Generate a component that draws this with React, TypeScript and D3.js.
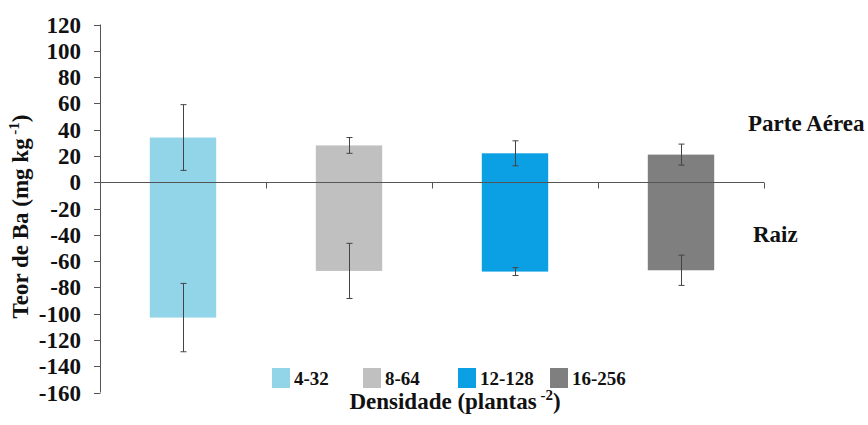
import React from "react";
import * as d3 from "d3";

// Barium content by planting density: shoot (positive) and root (negative)
const categories = ["4-32", "8-64", "12-128", "16-256"];
const shootValues = [34, 28, 22, 21];
const shootErrors = [25, 6, 9.5, 8];
const rootValues = [-103, -67.5, -68, -67];
const rootErrors = [26, 21, 3, 11.5];
const yTicks = [120, 100, 80, 60, 40, 20, 0, -20, -40, -60, -80, -100, -120, -140, -160];
const colors = ["#93D5E8", "#C0C0C0", "#0AA0E3", "#7F7F7F"];

const W = 868;
const H = 425;
const AXIS = "#555555";
const serif = { fontFamily: "Liberation Serif" };

export default function App() {
  const y = d3.scaleLinear().domain([-160, 120]).range([392.5, 24.5]);
  const x = d3.scaleBand<string>().domain(categories).range([100, 764]).padding(0);
  const barW = x.bandwidth() * 0.4;
  const y0 = Math.round(y(0)) + 0.5;

  // legend layout: square left edges
  const legendX = [272, 363, 458, 550];

  const errorBar = (cx: number, v: number, e: number, key: string) => {
    const top = y(v + e);
    const bot = y(v - e);
    return (
      <g key={key} stroke="#444" strokeWidth={1}>
        <line x1={cx} x2={cx} y1={top} y2={bot} />
        <line x1={cx - 3} x2={cx + 3} y1={top} y2={top} />
        <line x1={cx - 3} x2={cx + 3} y1={bot} y2={bot} />
      </g>
    );
  };

  return (
    <svg width={W} height={H} style={{ position: "absolute", left: 0, top: 0 }}>
      <rect width={W} height={H} fill="#fff" />

      {/* bars */}
      {categories.map((c, i) => {
        const cx = (x(c) as number) + x.bandwidth() / 2;
        return (
          <g key={c}>
            <rect
              x={cx - barW / 2}
              y={y(shootValues[i])}
              width={barW}
              height={y(0) - y(shootValues[i])}
              fill={colors[i]}
            />
            <rect
              x={cx - barW / 2}
              y={y(0)}
              width={barW}
              height={y(rootValues[i]) - y(0)}
              fill={colors[i]}
            />
          </g>
        );
      })}

      {/* y axis */}
      <line x1={100.5} x2={100.5} y1={y(120)} y2={y(-160)} stroke={AXIS} />
      {yTicks.map((t) => (
        <g key={t}>
          <line x1={94} x2={100.5} y1={Math.round(y(t)) + 0.5} y2={Math.round(y(t)) + 0.5} stroke={AXIS} />
          <text x={81} y={y(t) + 8} textAnchor="end" fontSize={23} fontWeight="bold" style={serif} fill="#111">
            {String(t)}
          </text>
        </g>
      ))}

      {/* x axis at zero */}
      <line x1={100} x2={764} y1={y0} y2={y0} stroke={AXIS} />
      {categories.map((c) => {
        const xe = Math.round((x(c) as number) + x.bandwidth()) + 0.5;
        return <line key={"t" + c} x1={xe} x2={xe} y1={y0} y2={y0 + 6} stroke={AXIS} />;
      })}

      {/* error bars */}
      {categories.map((c, i) => {
        const cx = Math.round((x(c) as number) + x.bandwidth() / 2) + 0.5;
        return (
          <g key={"e" + c}>
            {errorBar(cx, shootValues[i], shootErrors[i], "s")}
            {errorBar(cx, rootValues[i], rootErrors[i], "r")}
          </g>
        );
      })}

      {/* side labels */}
      <text x={748} y={131} fontSize={23} fontWeight="bold" style={serif} fill="#111">
        Parte Aérea
      </text>
      <text x={753} y={242} fontSize={23} fontWeight="bold" style={serif} fill="#111">
        Raiz
      </text>

      {/* y title */}
      <text
        transform={`translate(28,${(y(120) + y(-160)) / 2 + 8}) rotate(-90)`}
        textAnchor="middle"
        fontSize={23}
        fontWeight="bold"
        style={serif}
        fill="#111"
      >
        Teor de Ba (mg kg
        <tspan fontSize={15} dy={-9}> -1</tspan>
        <tspan dy={9}>)</tspan>
      </text>

      {/* legend */}
      {categories.map((c, i) => (
        <g key={"l" + c}>
          <rect x={legendX[i]} y={368} width={18} height={20} fill={colors[i]} />
          <text x={legendX[i] + 22} y={385} fontSize={19} fontWeight="bold" style={serif} fill="#111">
            {c}
          </text>
        </g>
      ))}

      {/* x title */}
      <text x={455} y={409} textAnchor="middle" fontSize={23} fontWeight="bold" style={serif} fill="#111">
        Densidade (plantas
        <tspan fontSize={15} dy={-9}> -2</tspan>
        <tspan dy={9}>)</tspan>
      </text>
    </svg>
  );
}
